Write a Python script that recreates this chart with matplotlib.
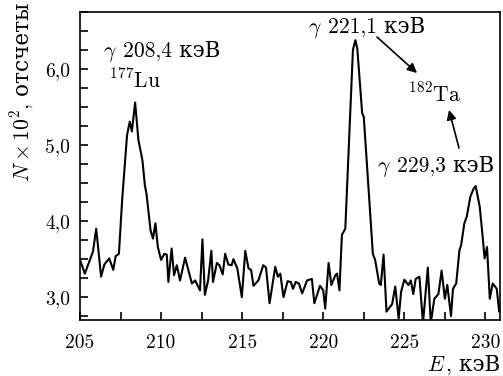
import matplotlib
matplotlib.use("Agg")
import matplotlib.pyplot as plt
from matplotlib.ticker import MultipleLocator, FixedLocator
from matplotlib.transforms import IdentityTransform

# energy, keV
energy = [
    205.0, 205.3, 205.8, 206.0, 206.3, 206.5, 206.8, 207.05, 207.2, 207.4,
    207.6, 207.9, 208.07, 208.2, 208.4, 208.6, 208.85, 209.0, 209.1, 209.35,
    209.5, 209.65, 209.8, 210.0, 210.2, 210.35, 210.45, 210.65, 210.8, 210.97,
    211.17, 211.48, 211.9, 212.1, 212.4, 212.55, 212.7, 212.9, 213.1, 213.2,
    213.44, 213.6, 213.8, 213.95, 214.15, 214.35, 214.46, 214.7, 214.98, 215.19,
    215.39, 215.55, 215.7, 216.0, 216.3, 216.47, 216.69, 217.04, 217.2, 217.35,
    217.55, 217.8, 218.0, 218.14, 218.3, 218.5, 218.7, 219.0, 219.3, 219.45,
    219.8, 220.0, 220.12, 220.33, 220.5, 220.75, 220.85, 221.0, 221.15, 221.36,
    221.83, 221.98, 222.1, 222.4, 222.5, 223.06, 223.2, 223.45, 223.55, 223.72,
    223.9, 224.25, 224.44, 224.65, 224.8, 225.0, 225.25, 225.4, 225.55, 225.7,
    225.93, 226.15, 226.45, 226.63, 226.85, 227.1, 227.3, 227.5, 227.65, 227.88,
    228.0, 228.2, 228.4, 228.5, 228.7, 228.85, 229.07, 229.28, 229.4, 229.65,
    229.85, 229.95, 230.1, 230.27, 230.45, 230.7, 230.85, 230.95,
]
# counts, x 10^2
counts = [
    3.49, 3.31, 3.60, 3.90, 3.27, 3.43, 3.51, 3.36, 3.54, 3.57,
    4.28, 5.13, 5.31, 5.18, 5.56, 5.07, 4.80, 4.47, 4.36, 3.88,
    3.77, 3.97, 3.66, 3.49, 3.57, 3.56, 3.20, 3.64, 3.29, 3.42,
    3.22, 3.52, 3.18, 3.22, 3.09, 3.76, 3.03, 3.22, 3.61, 3.20,
    3.45, 3.42, 3.30, 3.57, 3.43, 3.42, 3.50, 3.38, 3.00, 3.61,
    3.38, 3.36, 3.15, 3.22, 3.42, 3.39, 2.92, 3.40, 3.27, 3.31,
    3.00, 3.21, 3.20, 3.11, 3.20, 3.18, 3.05, 3.22, 3.24, 2.92,
    3.15, 3.09, 2.85, 3.45, 3.16, 3.29, 3.31, 3.09, 3.82, 3.90,
    6.25, 6.38, 6.27, 5.42, 5.37, 3.57, 3.49, 3.18, 3.16, 3.56,
    2.81, 2.91, 3.14, 2.72, 3.07, 3.23, 3.16, 3.22, 3.04, 3.24,
    3.27, 2.66, 3.39, 2.66, 2.98, 3.04, 3.35, 2.98, 3.16, 2.75,
    3.11, 3.18, 3.62, 3.68, 3.97, 4.06, 4.32, 4.43, 4.46, 4.19,
    3.75, 3.51, 3.66, 2.98, 3.18, 3.11, 2.81, 2.92,
]

x_ticks = [205, 210, 215, 220, 225, 230]
y_ticks = [3.0, 4.0, 5.0, 6.0]
y_tick_labels = ["3,0", "4,0", "5,0", "6,0"]

W, H = 503, 376
FS = 14      # tick labels
FS_TXT = 15.5  # axis labels and annotations

plt.rcParams["font.family"] = ["cmr10", "DejaVu Serif"]
plt.rcParams["mathtext.fontset"] = "cm"
plt.rcParams["axes.unicode_minus"] = False


def put_pieces(fig, x, y, pieces, gaps, rotation=0, right=False):
    """Lay out text pieces one after another; x, y in image pixels from top-left,
    at the baseline start (or end when right=True)."""
    renderer = fig.canvas.get_renderer()
    texts = []
    for s in pieces:
        t = fig.text(0, 0, s, transform=IdentityTransform(), fontsize=FS_TXT,
                     ha="left", va="baseline", rotation=rotation,
                     rotation_mode="anchor")
        texts.append(t)
    sizes = []
    for t in texts:
        bb = t.get_window_extent(renderer)
        sizes.append(bb.height if rotation == 90 else bb.width)
    total = sum(sizes) + sum(gaps)
    pos = -total if right else 0
    for i, t in enumerate(texts):
        if rotation == 90:
            t.set_position((x, H - y + pos))
        else:
            t.set_position((x + pos, H - y))
        pos += sizes[i] + (gaps[i] if i < len(gaps) else 0)


fig = plt.figure(figsize=(W / 100, H / 100), dpi=100)
ax = fig.add_axes([80 / W, 56 / H, 420 / W, 308 / H])

ax.plot(energy, counts, color="black", linewidth=1.5)

ax.set_xlim(205, 230.9)
ax.set_ylim(2.70, 6.75)

ax.xaxis.set_major_locator(FixedLocator(x_ticks))
ax.xaxis.set_minor_locator(MultipleLocator(2.5))
ax.yaxis.set_major_locator(FixedLocator(y_ticks))
ax.yaxis.set_minor_locator(MultipleLocator(0.25))
ax.set_xticklabels([str(t) for t in x_ticks])
ax.set_yticklabels(y_tick_labels)
ax.tick_params(which="both", direction="in", top=False, right=False,
               labelsize=FS, width=1.2, length=6)
ax.tick_params(axis="x", pad=10)
ax.tick_params(axis="y", pad=7)
for spine in ax.spines.values():
    spine.set_linewidth(1.2)

fig.canvas.draw()

# axis labels
put_pieces(fig, 29, 182, [r"$N\times10^2$", ", отсчеты"], [0], rotation=90)
put_pieces(fig, 500, 371, [r"$E$", ", кэВ"], [0], right=True)

# peak annotations
put_pieces(fig, 103, 57, [r"$\gamma$", "208,4 кэВ"], [6])
put_pieces(fig, 109, 88, [r"$^{177}\mathrm{Lu}$"], [])
put_pieces(fig, 308, 33, [r"$\gamma$", "221,1 кэВ"], [6])
put_pieces(fig, 408, 102, [r"$^{182}\mathrm{Ta}$"], [])
put_pieces(fig, 377, 172, [r"$\gamma$", "229,3 кэВ"], [6])

arrow_style = dict(arrowstyle="-|>", color="black", lw=1.2, mutation_scale=14,
                   shrinkA=0, shrinkB=0)
ax.annotate("", xy=(417, H - 73), xytext=(377, H - 37),
            xycoords="figure pixels", textcoords="figure pixels",
            arrowprops=arrow_style)
ax.annotate("", xy=(449, H - 110), xytext=(459, H - 148),
            xycoords="figure pixels", textcoords="figure pixels",
            arrowprops=arrow_style)

fig.savefig("out.png", dpi=100)
